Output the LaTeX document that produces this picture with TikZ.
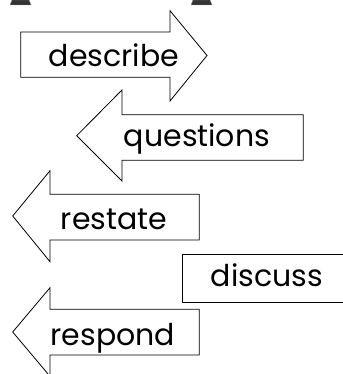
\documentclass[tikz,border=0pt]{standalone}
\usepackage{fontspec}
\setmainfont{Poppins}
\begin{document}
\begin{tikzpicture}[x=1pt,y=-1pt,
  outline/.style={draw=black,line width=0.8pt,fill=white,line join=miter},
  word/.style={font=\fontsize{30}{30}\selectfont,inner sep=0pt,anchor=base},
  stub/.style={fill=black!80,draw=black!45,line width=0.4pt}]
\useasboundingbox (0,0) rectangle (342,374);
% dark feet cut off by the upper edge
\draw[stub] (12,0) -- (29,0) -- (31,5) -- (10,5) -- cycle;
\draw[stub] (193,0) -- (210,0) -- (212,5) -- (191,5) -- cycle;
% describe: arrow pointing right
\draw[outline] (20.7,32) -- (170,32) -- (170,10.7) -- (207,55.5) -- (170,101)
  -- (170,77.3) -- (20.7,77.3) -- cycle;
\node[word] (describe) at (114,66.7) {describe};
% questions: arrow pointing left
\draw[outline] (303.3,114.7) -- (122,114.7) -- (122,90) -- (76.7,135.7) -- (122,181)
  -- (122,160.3) -- (303.3,160.3) -- cycle;
\node[word] (questions) at (197,146.7) {questions};
% restate: arrow pointing left
\draw[outline] (199.3,194.3) -- (50,194.3) -- (50,170.7) -- (12.7,216) -- (50,261.7)
  -- (50,240) -- (199.3,240) -- cycle;
\node[word] (restate) at (114,229.3) {restate};
% discuss: plain box running off the right edge
\draw[outline] (345,254.3) -- (182,254.3) -- (182,302.3) -- (345,302.3);
\node[word] (discuss) at (267,286.7) {discuss};
% respond: arrow pointing left
\draw[outline] (199.3,309.3) -- (50,309.3) -- (50,287.7) -- (12.7,332) -- (50,376.3)
  -- (50,355) -- (199.3,355) -- cycle;
\node[word] (respond) at (113,345.5) {respond};
\end{tikzpicture}
\end{document}
